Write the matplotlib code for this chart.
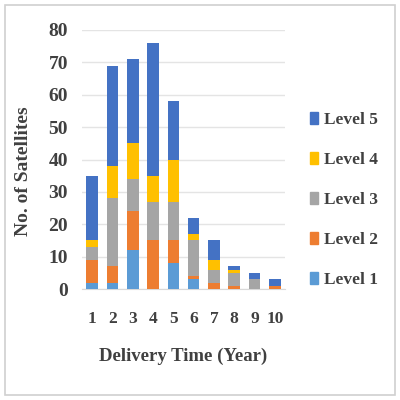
import matplotlib
matplotlib.use("Agg")
import matplotlib.pyplot as plt
from matplotlib.patches import Rectangle, Patch
import numpy as np

years = [1, 2, 3, 4, 5, 6, 7, 8, 9, 10]
level1 = [2, 2, 12, 0, 8, 3, 0, 0, 0, 0]
level2 = [7, 5, 12, 15, 7, 1, 2, 1, 0, 1]
level3 = [4, 21, 10, 12, 12, 11, 4, 4, 3, 0]
level4 = [2, 10, 11, 8, 13, 2, 3, 1, 0, 0]
level5 = [20, 31, 26, 41, 18, 5, 6, 1, 2, 2]

series = [("Level 1", level1, "#5B9BD5"),
          ("Level 2", level2, "#ED7D31"),
          ("Level 3", level3, "#A5A5A5"),
          ("Level 4", level4, "#FFC000"),
          ("Level 5", level5, "#4472C4")]

plt.rcParams['font.family'] = ['Liberation Serif', 'DejaVu Serif']
plt.rcParams['font.weight'] = 'bold'
tc = '#404040'

fig = plt.figure(figsize=(4, 4), dpi=100)
ax = fig.add_axes([0.205, 0.2775, 0.5075, 0.6475])

bottom = np.zeros(len(years))
handles = []
for name, vals, col in series:
    ax.bar(years, vals, bottom=bottom, width=0.57, color=col, label=name, zorder=3)
    bottom += np.array(vals)
    handles.append(Patch(color=col, label=name))

ax.set_xlim(0.5, 10.5)
ax.set_ylim(0, 80)
ax.set_yticks(range(0, 81, 10))
ax.set_xticks(years)
ax.tick_params(axis='y', labelsize=14, length=0, colors=tc, pad=10)
ax.tick_params(axis='x', labelsize=12.5, length=0, colors=tc, pad=16)
for lab in ax.get_xticklabels() + ax.get_yticklabels():
    lab.set_fontweight('bold')
ax.grid(axis='y', color='#E4E4E4', linewidth=1, zorder=0)
for s in ['top', 'right', 'left']:
    ax.spines[s].set_visible(False)
ax.spines['bottom'].set_color('#D9D9D9')

ax.set_xlabel("Delivery Time (Year)", fontsize=13.5, fontweight='bold', color=tc)
ax.xaxis.set_label_coords(0.5, -0.228)
ax.set_ylabel("No. of Satellites", fontsize=14, fontweight='bold', color=tc)
ax.yaxis.set_label_coords(-0.245, 0.455)

leg = fig.legend(handles=handles[::-1], loc='center left', bbox_to_anchor=(0.775, 0.5),
                 frameon=False, fontsize=12.5, labelspacing=1.38, handlelength=0.45,
                 handleheight=0.65, handletextpad=0.35, borderpad=0, borderaxespad=0)
for t in leg.get_texts():
    t.set_color(tc)
    t.set_fontweight('bold')

fig.patches.append(Rectangle((0.0125, 0.0125), 0.975, 0.975, transform=fig.transFigure,
                             fill=False, edgecolor='#D0D0D0', linewidth=1.2))

fig.savefig("out.png", dpi=100)
